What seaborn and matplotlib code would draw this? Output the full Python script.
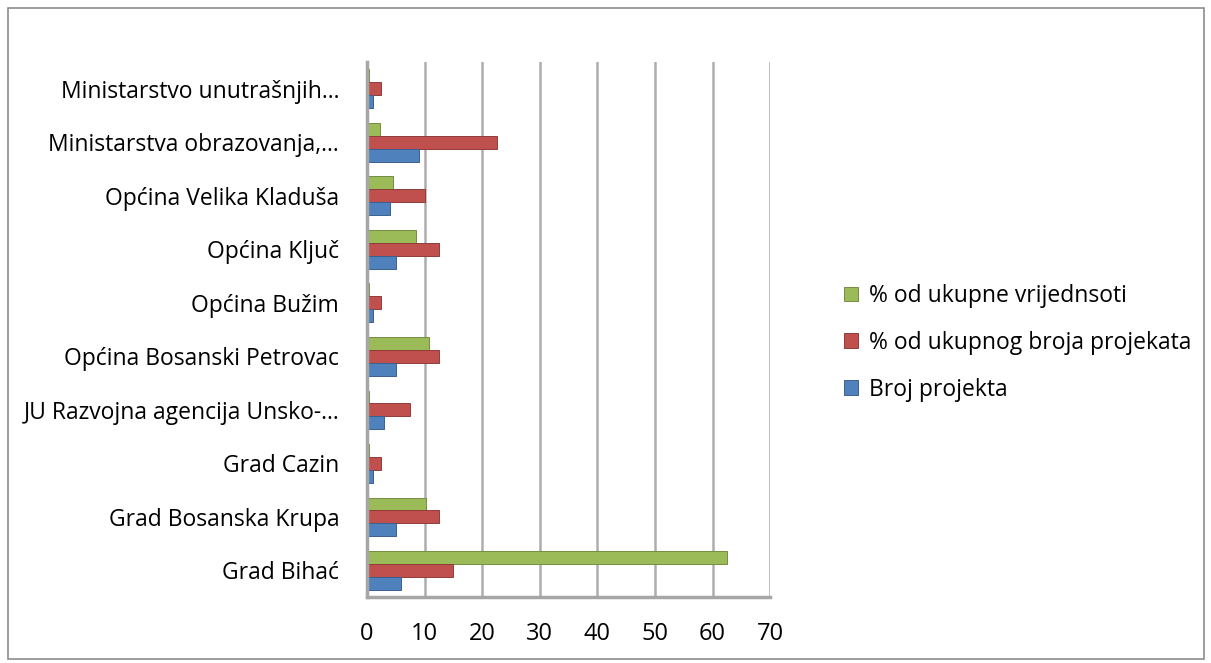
import matplotlib
matplotlib.use("Agg")
import matplotlib.pyplot as plt
import matplotlib.patches as mpatches
import numpy as np
import pandas as pd
import seaborn as sns

# podaci (procijenjeno s grafikona)
kategorije = ["Ministarstvo unutrašnjih…", "Ministarstva obrazovanja,…",
              "Općina Velika Kladuša", "Općina Ključ", "Općina Bužim",
              "Općina Bosanski Petrovac", "JU Razvojna agencija Unsko-…",
              "Grad Cazin", "Grad Bosanska Krupa", "Grad Bihać"]
broj_projekta = [1, 9, 4, 5, 1, 5, 3, 1, 5, 6]
posto_projekata = [2.5, 22.5, 10, 12.5, 2.5, 12.5, 7.5, 2.5, 12.5, 15]
posto_vrijednosti = [0.3, 2.2, 4.5, 8.6, 0.3, 10.8, 0.3, 0.4, 10.2, 62.5]

serije = ["% od ukupne vrijednsoti", "% od ukupnog broja projekata", "Broj projekta"]
boje = ["#9BBB59", "#C0504D", "#4F81BD"]

df = pd.DataFrame({
    "kategorija": kategorije * 3,
    "serija": [serije[0]] * 10 + [serije[1]] * 10 + [serije[2]] * 10,
    "vrijednost": posto_vrijednosti + posto_projekata + broj_projekta,
})

sns.set_style("white")
plt.rcParams["font.family"] = ["Open Sans", "DejaVu Sans"]

fig = plt.figure(figsize=(12.11, 6.63), dpi=100)
ax = fig.add_axes([0.303, 0.0995, 0.333, 0.807])

sns.barplot(data=df, y="kategorija", x="vrijednost", hue="serija",
            order=kategorije, hue_order=serije, palette=boje,
            orient="h", width=0.72, saturation=1, ax=ax,
            edgecolor="none", linewidth=0, legend=True)

# tamniji rub za 3D dojam
for patch in ax.patches:
    fc = patch.get_facecolor()
    patch.set_edgecolor(tuple(c * 0.75 for c in fc[:3]) + (1,))
    patch.set_linewidth(0.7)

ax.set_xlim(0, 70)
ax.set_xticks(np.arange(0, 71, 10))
ax.xaxis.grid(True, color="#ADADAD", linewidth=1.8)
ax.set_axisbelow(True)
ax.set_xlabel("")
ax.set_ylabel("")

for s in ["top", "right"]:
    ax.spines[s].set_visible(False)
for s in ["left", "bottom"]:
    ax.spines[s].set_color("#A6A6A6")
    ax.spines[s].set_linewidth(2.5)

ax.tick_params(axis="x", labelsize=17, length=6, width=1.5, color="#A6A6A6",
               pad=12, labelcolor="black")
ax.tick_params(axis="y", labelsize=16.5, length=0, pad=20, labelcolor="black")
ax.set_yticks(np.arange(-0.5, len(kategorije), 1), minor=True)
ax.tick_params(axis="y", which="minor", length=7, width=1.5, color="#A6A6A6")

# legenda
h, l = ax.get_legend_handles_labels()
ax.get_legend().remove()
leg = fig.legend(h, l, loc="center left", bbox_to_anchor=(0.68, 0.483),
                 frameon=False, fontsize=16.5, handlelength=0.6, handleheight=0.6,
                 handletextpad=0.5, labelspacing=1.0)
for t in leg.get_texts():
    t.set_color("black")

# okvir grafikona
fig.patches.append(mpatches.Rectangle((0.007, 0.006), 0.987, 0.982,
                                      transform=fig.transFigure, fill=False,
                                      edgecolor="#8C8C8C", linewidth=1.2))

fig.savefig("out.png", dpi=100)
